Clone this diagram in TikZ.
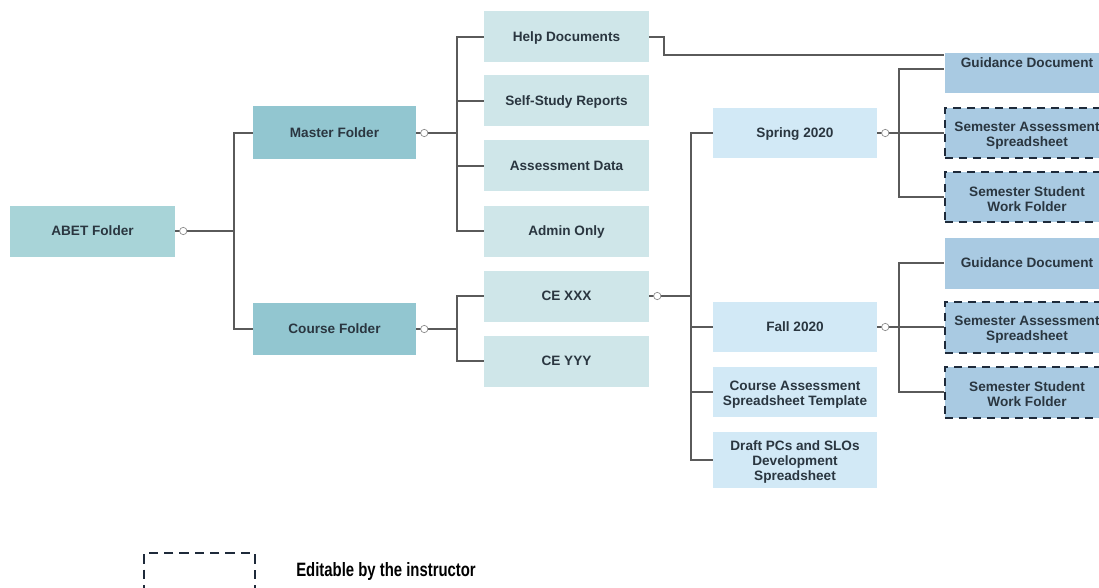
\documentclass[tikz,border=0pt]{standalone}
\usepackage{fontspec}
\usepackage{graphicx}
\setmainfont{Liberation Sans}
\usetikzlibrary{calc}
\definecolor{abetc}{HTML}{A8D4D8}
\definecolor{masterc}{HTML}{92C6D0}
\definecolor{childc}{HTML}{CFE6E9}
\definecolor{semc}{HTML}{D2E9F6}
\definecolor{guidc}{HTML}{A9CAE2}
\definecolor{txt}{HTML}{2A3640}
\definecolor{ln}{HTML}{5A5A5A}
\definecolor{navy}{HTML}{1E2A3A}
\newcommand{\tallstrut}{\rule{0pt}{10.5pt}}
\begin{document}
\begin{tikzpicture}[x=0.75pt,y=-0.75pt,
  box/.style={rectangle, inner sep=2pt, align=center, text=txt,
    font=\fontsize{10.2}{11.3}\selectfont\bfseries,
    minimum width=123.75pt, minimum height=38.25pt},
  one/.style={text height=7.3pt, text depth=0pt},
  conn/.style={draw=ln, line width=1.35pt},
  knob/.style={circle, draw=ln!70, fill=white, line width=0.5pt, inner sep=0pt, minimum size=5.5pt},
  edit/.style={draw=navy, dash pattern=on 6pt off 4.5pt, line width=1.5pt}]
\useasboundingbox (0,0) rectangle (1099,588);
\clip (0,0) rectangle (1099,588);
% level 0 and 1
\node[box, one, fill=abetc] (abet) at (92.5,231) {ABET Folder};
\node[box, one, fill=masterc, minimum width=122.25pt, minimum height=39.75pt] (master) at (334.5,133) {Master Folder};
\node[box, one, fill=masterc, minimum width=122.25pt, minimum height=39pt] (course) at (334.5,329) {Course Folder};
% level 2
\node[box, one, fill=childc] (help) at (566.5,37) {Help Documents};
\node[box, one, fill=childc] (self) at (566.5,101) {Self-Study Reports};
\node[box, one, fill=childc] (assess) at (566.5,166) {Assessment Data};
\node[box, one, fill=childc] (admin) at (566.5,231) {Admin Only};
\node[box, one, fill=childc] (cexxx) at (566.5,296) {CE XXX};
\node[box, one, fill=childc] (ceyyy) at (566.5,361) {CE YYY};
% level 3
\node[box, one, fill=semc, minimum width=123pt, minimum height=37.5pt] (spring) at (795,133) {Spring 2020};
\node[box, one, fill=semc, minimum width=123pt, minimum height=37.5pt] (fall) at (795,327) {Fall 2020};
\node[box, fill=semc, minimum width=123pt, minimum height=37.5pt] (tmpl) at (795,392) {\tallstrut Course Assessment\\Spreadsheet Template};
\node[box, fill=semc, minimum width=123pt, minimum height=42pt] (draft) at (795,460) {\tallstrut Draft PCs and SLOs\\Development\\Spreadsheet};
% level 4
\node[box, fill=guidc, anchor=north, minimum height=30pt, inner ysep=3pt, text height=7.6pt, text depth=16.5pt] (g1) at (1027,53) {Guidance Document};
\node[box, fill=guidc, edit, minimum height=37.5pt] (sa1) at (1027,133) {\tallstrut Semester Assessment\\Spreadsheet};
\node[box, fill=guidc, edit, minimum height=37.5pt] (sw1) at (1027,197) {\tallstrut Semester Student\\Work Folder};
\node[box, one, fill=guidc, minimum height=38.25pt] (g2) at (1027,263) {Guidance Document};
\node[box, fill=guidc, edit, minimum height=38.25pt] (sa2) at (1027,327) {\tallstrut Semester Assessment\\Spreadsheet};
\node[box, fill=guidc, edit, minimum height=38.25pt] (sw2) at (1027,392) {\tallstrut Semester Student\\Work Folder};
% bus coordinates
\coordinate (b1) at (234,0);
\coordinate (b2) at (457,0);
\coordinate (b3) at (691,0);
\coordinate (b4) at (899,0);
% connectors
\draw[conn] (abet.east) -- (abet.east -| b1) |- (master.west);
\draw[conn] (abet.east -| b1) |- (course.west);
\foreach \c in {help,self,assess,admin}
  \draw[conn] (master.east) -- (master.east -| b2) |- (\c.west);
\foreach \c in {cexxx,ceyyy}
  \draw[conn] (course.east) -- (course.east -| b2) |- (\c.west);
\foreach \c in {spring,fall,tmpl,draft}
  \draw[conn] (cexxx.east) -- (cexxx.east -| b3) |- (\c.west);
\draw[conn] (help.east) -- ++(15,0) |- ([yshift=-1.5pt]g1.north west);
\draw[conn] (spring.east) -- (spring.east -| b4) |- ([yshift=-12pt]g1.north west);
\foreach \c in {sa1,sw1}
  \draw[conn] (spring.east) -- (spring.east -| b4) |- (\c.west);
\foreach \c in {g2,sa2,sw2}
  \draw[conn] (fall.east) -- (fall.east -| b4) |- (\c.west);
% knobs
\foreach \p in {abet,master,course,cexxx,spring,fall}
  \node[knob] at ([xshift=6pt]\p.east) {};
% legend
\node[edit, dash pattern=on 7pt off 4.5pt, line width=1.4pt, anchor=north west, minimum width=83pt, minimum height=40pt] (leg) at (143,552) {};
\node[anchor=base west, inner sep=0pt, font=\fontsize{14.5}{16}\selectfont\bfseries, text=black] (legt) at (296,576) {\scalebox{0.77}[1]{Editable by the instructor}};
\end{tikzpicture}
\end{document}
